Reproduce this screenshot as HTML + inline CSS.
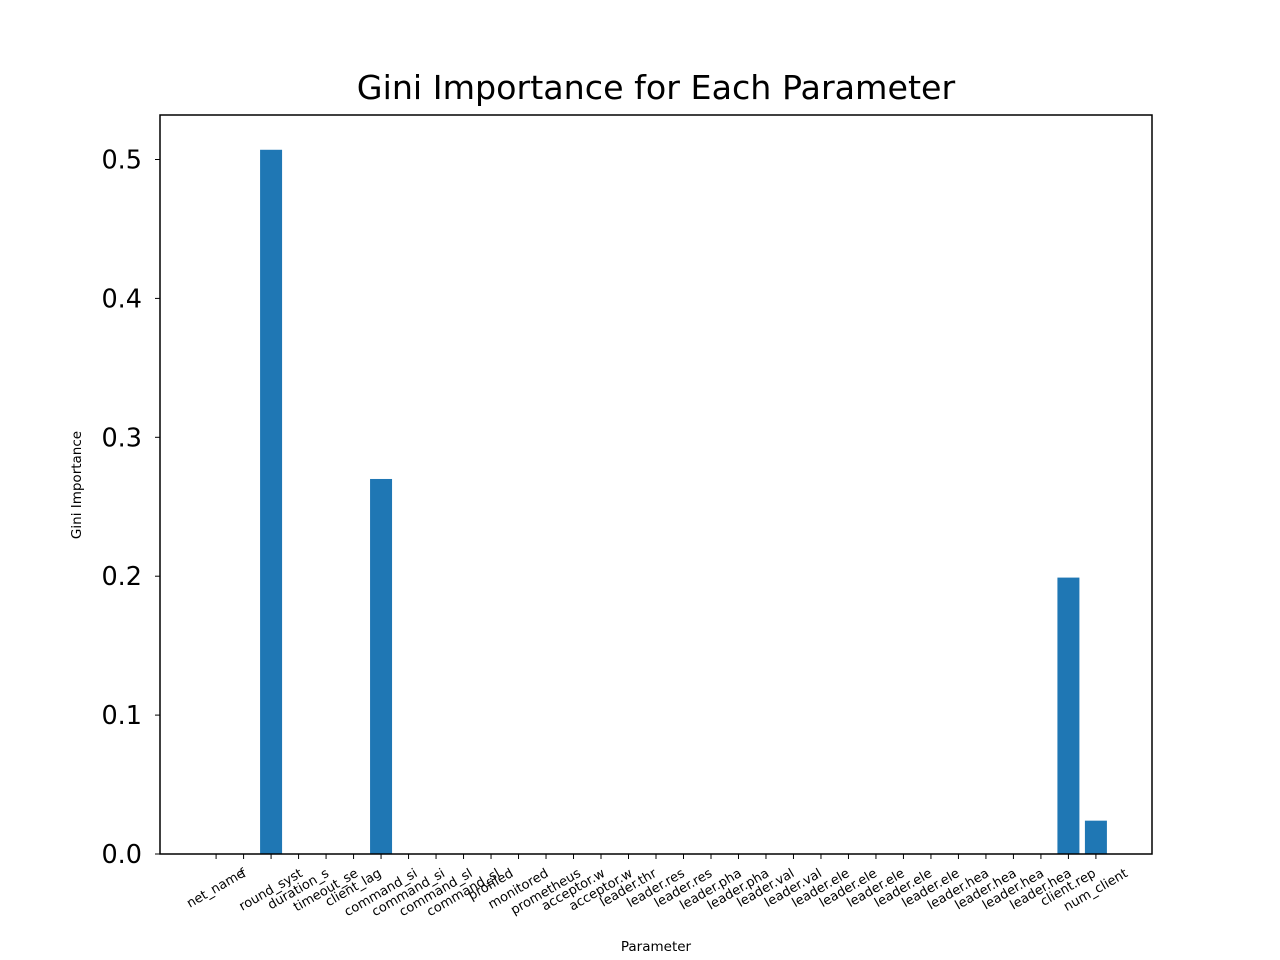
<!DOCTYPE html>
<html><head><meta charset="utf-8"><style>body{margin:0;background:#fff}svg{display:block;font-family:"DejaVu Sans","Liberation Sans",sans-serif}</style></head>
<body>
<svg id="chart" width="1280" height="960">
<rect width="1280" height="960" fill="#fff"/>
<text x="656" y="99" font-size="33.3" text-anchor="middle">Gini Importance for Each Parameter</text>
<g id="bars"></g><g id="xt"></g><g id="yt"></g>
<rect x="160" y="115" width="992" height="739" fill="none" stroke="#000" stroke-width="1.5"/>
<text x="656" y="951" font-size="13.5" text-anchor="middle">Parameter</text>
<text transform="translate(81,485) rotate(-90)" font-size="13.5" text-anchor="middle">Gini Importance</text>
</svg>
<script>
const categories=["net_name","f","round_syst","duration_s","timeout_se","client_lag","command_si","command_si","command_sl","command_sl","profiled","monitored","prometheus","acceptor.w","acceptor.w","leader.thr","leader.res","leader.res","leader.pha","leader.pha","leader.val","leader.val","leader.ele","leader.ele","leader.ele","leader.ele","leader.ele","leader.hea","leader.hea","leader.hea","leader.hea","client.rep","num_client"];
const values=[0,0,0.507,0,0,0,0.270,0,0,0,0,0,0,0,0,0,0,0,0,0,0,0,0,0,0,0,0,0,0,0,0,0.199,0.024];
const yTicks=[0,0.1,0.2,0.3,0.4,0.5];
const NS="http://www.w3.org/2000/svg";
const n=categories.length;
const xmin=-0.4-0.05*(n-1+0.8), xmax=n-1+0.4+0.05*(n-1+0.8);
const X=i=>160+(i-xmin)/(xmax-xmin)*992;
const Y=v=>854-v/0.1*138.9;
const bw=0.8*992/(xmax-xmin);
function mk(t,a,p){const e=document.createElementNS(NS,t);for(const k in a)e.setAttribute(k,a[k]);p.appendChild(e);return e;}
const bars=document.getElementById('bars'),xt=document.getElementById('xt'),yt=document.getElementById('yt');
categories.forEach((c,i)=>{
 const v=values[i];
 const r=mk('rect',{x:X(i)-bw/2,y:Y(v),width:bw,height:854-Y(v),fill:'#1f77b4'},bars);
 
 
 const tk=mk('line',{x1:X(i),x2:X(i),y1:854,y2:859,stroke:'#000','stroke-width':1},xt);
 
 
 const t=mk('text',{'font-size':13,'text-anchor':'middle','dominant-baseline':'central'},xt);
 t.textContent=c;
 const L=t.getComputedTextLength(), h=13;
 const cy=867+(L*0.5+h*0.866)/2;
 t.setAttribute('transform',`translate(${X(i)},${cy}) rotate(-30)`);
 
 
});
yTicks.forEach(v=>{
 const l=mk('line',{x1:155,x2:160,y1:Y(v),y2:Y(v),stroke:'#000','stroke-width':1},yt);
 
 
 const t=mk('text',{x:142,y:Y(v)+9,'font-size':25.5,'text-anchor':'end'},yt);
 t.textContent=v.toFixed(1);
 
 
});
</script>
</body></html>
